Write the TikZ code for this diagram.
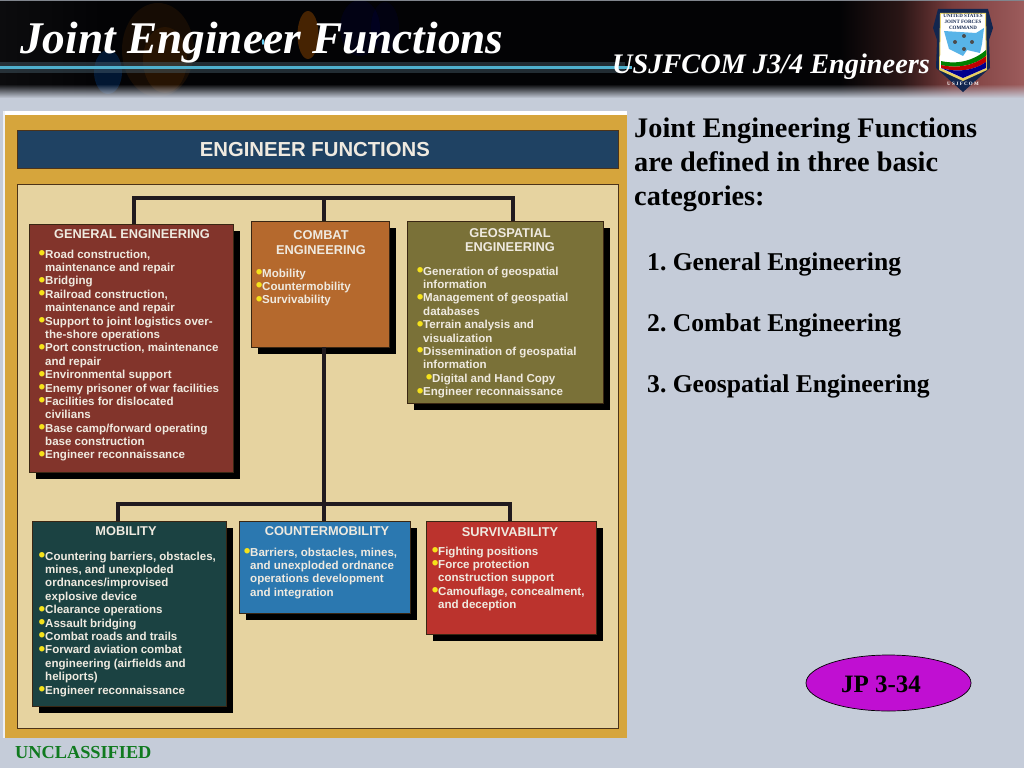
\documentclass[tikz,border=0pt]{standalone}
\usepackage{fontspec}
\setmainfont{Liberation Serif}
\setsansfont{Liberation Sans}
\usetikzlibrary{fadings}
\definecolor{pagebg}{HTML}{C5CCD9}
\definecolor{gold}{HTML}{D6A53C}
\definecolor{beige}{HTML}{E6D3A0}
\definecolor{hdrblue}{HTML}{1F4263}
\definecolor{cgen}{HTML}{82342B}
\definecolor{ccom}{HTML}{B5692D}
\definecolor{cgeo}{HTML}{7A7138}
\definecolor{cmob}{HTML}{1B4242}
\definecolor{ccnt}{HTML}{2B78B0}
\definecolor{csur}{HTML}{BB332D}
\definecolor{ltext}{HTML}{EFEAE0}
\definecolor{bul}{HTML}{F5E21B}
\definecolor{connc}{HTML}{211A1E}
\definecolor{pillc}{HTML}{C00FD2}
\definecolor{ungreen}{HTML}{107A1F}
\definecolor{shnavy}{HTML}{12264F}
\definecolor{shblue}{HTML}{58B4E8}
\definecolor{shgold}{HTML}{E8D060}
\definecolor{bline}{HTML}{4FB0CE}
\definecolor{bn1}{HTML}{0C0C0E}
\definecolor{bn2}{HTML}{030305}
\definecolor{bn3}{HTML}{2A1616}
\definecolor{bn4}{HTML}{7A3C3C}
\definecolor{bn5}{HTML}{9C5C5C}
\pgfdeclarehorizontalshading{bannershade}{100bp}{
  color(0bp)=(bn1); color(25bp)=(bn1); color(30bp)=(bn2); color(66bp)=(bn2);
  color(69bp)=(bn3); color(71.5bp)=(bn4); color(75bp)=(bn5); color(100bp)=(bn5)}
\newcommand{\bu}{\llap{\smash{\textcolor{bul}{\fontsize{19}{13}\selectfont\raisebox{-1.4pt}{•}}}\hspace{-0.2pt}}}
\newcommand{\st}{\rule{0pt}{10pt}}
\tikzset{
  x=1pt,y=-1pt,
  boxst/.style={anchor=north west,inner sep=0pt,outer sep=0pt,draw=black!70!brown,line width=0.7pt},
  listtxt/.style={anchor=north west,inner sep=0pt,align=left,text=ltext,font=\sffamily\bfseries\fontsize{11.55}{13.38}\selectfont},
  titletxt/.style={align=center,inner sep=0pt,text=ltext,font=\sffamily\bfseries\fontsize{12.8}{14.5}\selectfont},
  conn/.style={draw=connc,line width=4.3pt},
  connlow/.style={draw=connc,line width=3.4pt},
  sidetxt/.style={anchor=base west,inner sep=0pt,font=\rmfamily\bfseries\fontsize{28.3}{34}\selectfont},
  itemtxt/.style={anchor=base west,inner sep=0pt,font=\rmfamily\bfseries\fontsize{25.6}{27}\selectfont},
}
\newcommand{\ebox}[6]{% name x y w h colour
  \fill[black] (#2+7,#3+7) rectangle ++(#4,#5);
  \node[boxst,fill=#6,minimum width=#4pt,minimum height=#5pt] (#1) at (#2,#3) {};
}
\begin{document}
\begin{tikzpicture}
\useasboundingbox (0,0) rectangle (1024,768);
\fill[pagebg] (0,0) rectangle (1024,768);
% banner
\shade[shading=bannershade] (0,0) rectangle (1024,97);
\fill[orange!60!black,opacity=.45] (308,35) ellipse [x radius=10.5,y radius=24];
\fill[orange!60!black,opacity=.13] (158,50) ellipse [x radius=36,y radius=47];
\fill[orange!50!black,opacity=.16] (165,60) ellipse [x radius=22,y radius=33];
\fill[blue!55!cyan,opacity=.18] (108,72) ellipse [x radius=14,y radius=22];
\fill[blue!50!black,opacity=.13] (360,28) ellipse [x radius=20,y radius=28];
\fill[blue!50!black,opacity=.10] (385,28) ellipse [x radius=14,y radius=26];
\fill[cyan!60!white] (263,42) ellipse [x radius=1.2,y radius=3];
\fill[cyan!35!black,opacity=.45] (0,62) rectangle (625,73);
\fill[bline] (0,66) rectangle (632,69);
\fill[pagebg,path fading=north] (-2,84) rectangle (1026,98);
\fill[pagebg!65!black] (0,0) rectangle (1024,1.5);
\node[anchor=base west,inner sep=0pt,text=white,font=\rmfamily\bfseries\itshape\fontsize{45.3}{46}\selectfont] (title) at (20,54) {Joint Engineer Functions};
\node[anchor=base west,inner sep=0pt,text=white,font=\rmfamily\bfseries\itshape\fontsize{28.3}{29}\selectfont] (sub) at (612,73) {USJFCOM J3/4 Engineers};
% logo
\fill[shnavy] (938,9) -- (988,9) -- (993,28) -- (989,40) -- (990,68) -- (963,92) -- (936,68) -- (937,40) -- (933,28) -- cycle;
\fill[shgold] (940,13) -- (986,13) -- (987,70) -- (963,81) -- (939,70) -- cycle;
\fill[white] (941,14) -- (985,14) -- (986,68) -- (963,78) -- (940,68) -- cycle;
\fill[shblue] (944,31) -- (976,33) -- (984,28) -- (982,44) -- (980,53) -- (967,50) -- (963,56) -- (949,49) -- cycle;
\fill[green!50!black] (941,61) .. controls (958,65) and (975,60) .. (986,50) -- (986,56) .. controls (975,65) and (958,69) .. (941,65) -- cycle;
\fill[red!75!black] (941,65) .. controls (958,69) and (975,65) .. (986,56) -- (986,62) .. controls (975,70) and (958,73) .. (941,68) -- cycle;
\fill[blue!55!black] (941,68) .. controls (958,73) and (975,70) .. (986,62) -- (986,68) -- (963,78) -- cycle;
\foreach \sx/\sy in {964/36,955/42,972/42,964/49}{\fill[black!70] (\sx,\sy) circle (2);}
\node[inner sep=0pt,align=center,text=shnavy,font=\rmfamily\bfseries\fontsize{5}{5.8}\selectfont] (logot) at (963,22) {UNITED STATES\\JOINT FORCES\\COMMAND};
\node[inner sep=0pt,text=white,font=\rmfamily\bfseries\fontsize{5}{5}\selectfont] (logob) at (963,84) {U S J F C O M};
% picture panel
\fill[white] (3,111) rectangle (627,115);
\fill[white!70!pagebg] (3,111) rectangle (5,738);
\fill[gold] (5,115) rectangle (627,738);
\node[anchor=north west,minimum width=601pt,minimum height=38pt,inner sep=0pt,fill=hdrblue,draw=black!60!brown,line width=.7pt,text=ltext,font=\sffamily\bfseries\fontsize{20.3}{22}\selectfont] (hdr) at (17,130) {ENGINEER FUNCTIONS\kern6pt};
\fill[beige,draw=black!60!brown,line width=.7pt] (17,184) rectangle (618,728);
% boxes
\coordinate (jt) at (324,198);
\coordinate (jb) at (324,504);
\ebox{gen}{29}{224}{204}{248}{cgen}
\ebox{com}{251}{221}{138}{126}{ccom}
\ebox{geo}{407}{221}{196}{182}{cgeo}
\ebox{mob}{32}{521}{194}{185}{cmob}
\ebox{cnt}{239}{521}{171}{92}{ccnt}
\ebox{sur}{426}{521}{170}{113}{csur}
% connectors
\draw[conn] ([xshift=3pt]gen.north) |- (jt);
\draw[conn] ([xshift=8pt]geo.north) |- (jt);
\draw[conn] (jt) -- ([xshift=4pt]com.north);
\draw[conn] ([xshift=4pt]com.south) -- ([xshift=-.5pt]cnt.north);
\draw[connlow] (jb) -| ([xshift=-11pt]mob.north);
\draw[connlow] (jb) -| ([xshift=-1pt]sur.north);
% titles
\node[titletxt] (tgen) at (132,234) {GENERAL ENGINEERING};
\node[titletxt] (tcom) at (321,242.5) {COMBAT\\ENGINEERING};
\node[titletxt] (tgeo) at (510,240) {GEOSPATIAL\\ENGINEERING};
\node[titletxt] (tmob) at (126,531) {MOBILITY};
\node[titletxt] (tcnt) at (327,531) {COUNTERMOBILITY};
\node[titletxt] (tsur) at (510,532) {SURVIVABILITY};
% lists
\node[listtxt] (lgen) at (45,248) {\st\bu Road construction,\\maintenance and repair\\\bu Bridging\\\bu Railroad construction,\\maintenance and repair\\\bu Support to joint logistics over-\\the-shore operations\\\bu Port construction, maintenance\\and repair\\\bu Environmental support\\\bu Enemy prisoner of war facilities\\\bu Facilities for dislocated\\civilians\\\bu Base camp/forward operating\\base construction\\\bu Engineer reconnaissance};
\node[listtxt] (lcom) at (262,267) {\st\bu Mobility\\\bu Countermobility\\\bu Survivability};
\node[listtxt] (lgeo) at (423,265) {\st\bu Generation of geospatial\\information\\\bu Management of geospatial\\databases\\\bu Terrain analysis and\\visualization\\\bu Dissemination of geospatial\\information\\\hspace{9pt}\bu Digital and Hand Copy\\\bu Engineer reconnaissance};
\node[listtxt] (lmob) at (45,550) {\st\bu Countering barriers, obstacles,\\mines, and unexploded\\ordnances/improvised\\explosive device\\\bu Clearance operations\\\bu Assault bridging\\\bu Combat roads and trails\\\bu Forward aviation combat\\engineering (airfields and\\heliports)\\\bu Engineer reconnaissance};
\node[listtxt] (lcnt) at (250,546) {\st\bu Barriers, obstacles, mines,\\and unexploded ordnance\\operations development\\and integration};
\node[listtxt] (lsur) at (438,545) {\st\bu Fighting positions\\\bu Force protection\\construction support\\\bu Camouflage, concealment,\\and deception};
% right text
\node[sidetxt] (s1) at (634,137) {Joint Engineering Functions};
\node[sidetxt] (s2) at (634,171) {are defined in three basic};
\node[sidetxt] (s3) at (634,205) {categories:};
\node[itemtxt] (i1) at (647,270) {1.\ General Engineering};
\node[itemtxt] (i2) at (647,331) {2.\ Combat Engineering};
\node[itemtxt] (i3) at (647,392) {3.\ Geospatial Engineering};
\draw[black,fill=pillc,line width=.7pt] (888.5,683) ellipse [x radius=82.5,y radius=28];
\node[inner sep=0pt,font=\rmfamily\bfseries\fontsize{25}{27}\selectfont] (jp) at (881,684) {JP 3-34};
\node[anchor=west,inner sep=0pt,text=ungreen,font=\rmfamily\bfseries\fontsize{18.3}{20}\selectfont] (uncl) at (15,753) {UNCLASSIFIED};
\end{tikzpicture}
\end{document}
